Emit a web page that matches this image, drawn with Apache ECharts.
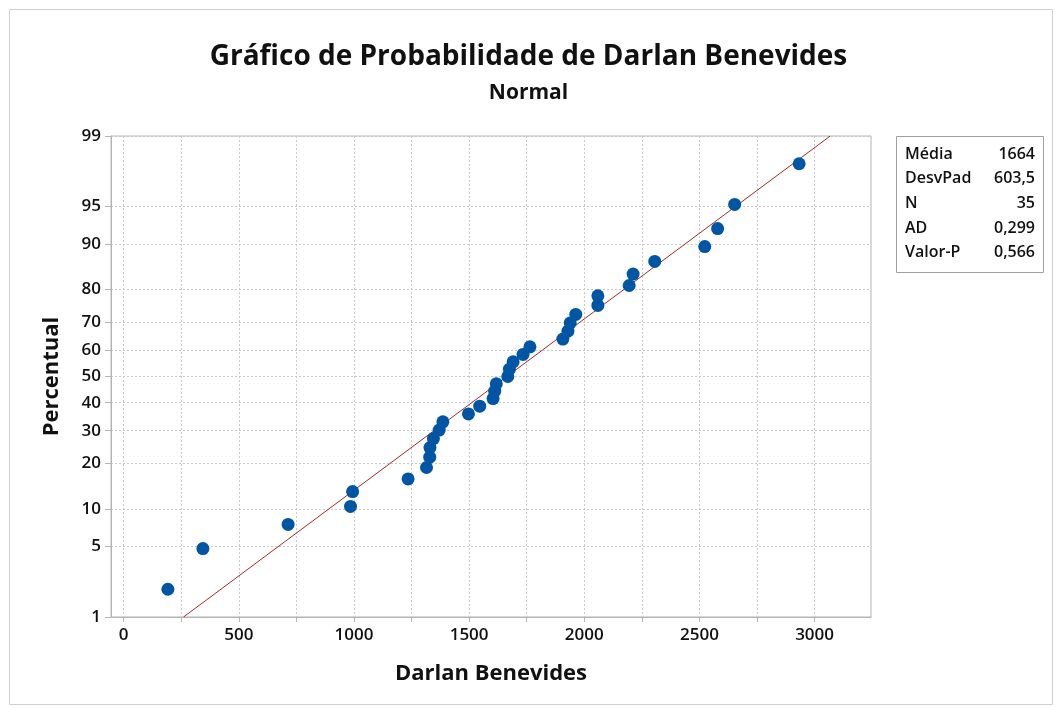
<!DOCTYPE html>
<html>
<head>
<meta charset="utf-8">
<script src="https://cdn.jsdelivr.net/npm/echarts@6/dist/echarts.min.js"></script>
<style>
  html, body { margin: 0; padding: 0; background: #fff; }
  #main { width: 1057px; height: 709px; }
</style>
</head>
<body>
<div id="main"></div>
<script>
var chart = echarts.init(document.getElementById('main'))

// dados (ordenados)
var xValues = [192, 344, 714, 985, 994, 1235, 1315, 1329, 1330, 1345, 1370, 1386, 1497, 1546,
  1604, 1611, 1618, 1668, 1675, 1691, 1734, 1764, 1907, 1929, 1939, 1963, 2059, 2059,
  2195, 2212, 2306, 2523, 2579, 2653, 2933]
var pctValues = [1.98, 4.80, 7.63, 10.45, 13.28, 16.10, 18.93, 21.75, 24.58, 27.40, 30.23, 33.05,
  35.88, 38.70, 41.53, 44.35, 47.18, 50.00, 52.82, 55.65, 58.47, 61.30, 64.12, 66.95,
  69.77, 72.60, 75.42, 78.25, 81.07, 83.90, 86.72, 89.55, 92.37, 95.20, 98.02]
var yTicks = [1, 5, 10, 20, 30, 40, 50, 60, 70, 80, 90, 95, 99]
var xTicks = [0, 500, 1000, 1500, 2000, 2500, 3000]
var xGrid = [0, 250, 500, 750, 1000, 1250, 1500, 1750, 2000, 2250, 2500, 2750, 3000]
var fitPct = [1, 99]
var statLabels = ['Média', 'DesvPad', 'N', 'AD', 'Valor-P']
var statValues = ['1664', '603,5', '35', '0,299', '0,566']
var mean = 1664, sd = 603.5

// inversa da normal (Acklam)
function probit(p) {
  var a = [-39.69683028665376, 220.9460984245205, -275.9285104469687, 138.3577518672690, -30.66479806614716, 2.506628277459239]
  var b = [-54.47609879822406, 161.5858368580409, -155.6989798598866, 66.80131188771972, -13.28068155288572]
  var c = [-0.007784894002430293, -0.3223964580411365, -2.400758277161838, -2.549732539343734, 4.374664141464968, 2.938163982698783]
  var d = [0.007784695709041462, 0.3224671290700398, 2.445134137142996, 3.754408661907416]
  var pl = 0.02425, q, r
  if (p < pl) {
    q = Math.sqrt(-2 * Math.log(p))
    return (((((c[0]*q+c[1])*q+c[2])*q+c[3])*q+c[4])*q+c[5]) / ((((d[0]*q+d[1])*q+d[2])*q+d[3])*q+1)
  }
  if (p > 1 - pl) {
    q = Math.sqrt(-2 * Math.log(1 - p))
    return -(((((c[0]*q+c[1])*q+c[2])*q+c[3])*q+c[4])*q+c[5]) / ((((d[0]*q+d[1])*q+d[2])*q+d[3])*q+1)
  }
  q = p - 0.5
  r = q * q
  return (((((a[0]*r+a[1])*r+a[2])*r+a[3])*r+a[4])*r+a[5])*q / (((((b[0]*r+b[1])*r+b[2])*r+b[3])*r+b[4])*r+1)
}

var yTickZ = yTicks.map(function (p) { return probit(p / 100) })
var points = xValues.map(function (x, i) { return [x, probit(pctValues[i] / 100)] })
var fitLine = fitPct.map(function (p) { var z = probit(p / 100); return [mean + sd * z, z] })

function zLabel(v) {
  var best = 0
  for (var i = 0; i < yTickZ.length; i++) {
    if (Math.abs(yTickZ[i] - v) < Math.abs(yTickZ[best] - v)) best = i
  }
  return String(yTicks[best])
}

var font = 'Open Sans'
var gridStyle = { show: true, lineStyle: { color: '#c8c8c8', type: [2, 2], width: 1 } }

var statTexts = []
statLabels.forEach(function (s, i) {
  statTexts.push({
    type: 'text', left: 905, top: 146 + i * 24.7,
    style: { text: s, font: '600 16px "' + font + '"', fill: '#111' }
  })
  statTexts.push({
    type: 'text', right: 22, top: 146 + i * 24.7,
    style: { text: statValues[i], font: '600 16px "' + font + '"', fill: '#111', align: 'right' }
  })
})

var option = {
  backgroundColor: '#fff',
  animation: false,
  textStyle: { fontFamily: font },
  title: [{
    text: 'Gráfico de Probabilidade de Darlan Benevides',
    left: 'center', top: 38,
    textStyle: { fontSize: 28, fontWeight: 'bold', color: '#111', fontFamily: font }
  }, {
    text: 'Normal',
    left: 'center', top: 78,
    textStyle: { fontSize: 21, fontWeight: 'bold', color: '#111', fontFamily: font }
  }],
  grid: { left: 111, right: 186, top: 136, bottom: 92, show: true, borderColor: '#b4b4b4', borderWidth: 1 },
  xAxis: {
    type: 'value', min: -55, max: 3245,
    name: 'Darlan Benevides', nameLocation: 'middle', nameGap: 46,
    nameTextStyle: { fontSize: 22, fontWeight: 'bold', color: '#111', fontFamily: font },
    axisLine: { show: true, onZero: false, lineStyle: { color: '#b4b4b4' } },
    axisTick: { show: true, customValues: xGrid, length: 5, lineStyle: { color: '#b4b4b4' } },
    axisLabel: {
      customValues: xTicks, formatter: function (v) { return String(v) },
      fontSize: 17, fontWeight: 600, color: '#111', margin: 10
    },
    splitLine: gridStyle
  },
  yAxis: {
    type: 'value', min: yTickZ[0], max: yTickZ[yTickZ.length - 1],
    name: 'Percentual', nameLocation: 'middle', nameGap: 48, nameRotate: 90,
    nameTextStyle: { fontSize: 22, fontWeight: 'bold', color: '#111', fontFamily: font },
    axisLine: { show: true, onZero: false, lineStyle: { color: '#b4b4b4' } },
    axisTick: { show: true, customValues: yTickZ, length: 6, lineStyle: { color: '#b4b4b4' } },
    axisLabel: { customValues: yTickZ, formatter: zLabel, fontSize: 17, fontWeight: 600, color: '#111', margin: 10 },
    splitLine: gridStyle
  },
  series: [{
    type: 'line', data: fitLine, symbol: 'none', silent: true,
    lineStyle: { color: '#a52a2a', width: 1 }, z: 2
  }, {
    type: 'scatter', data: points, symbolSize: 13,
    itemStyle: { color: '#0055a5', opacity: 1 }, z: 3
  }],
  graphic: [{
    type: 'rect', left: 7, top: 7, silent: true,
    shape: { width: 1043, height: 695 },
    style: { fill: 'none', stroke: '#d0d0d0', lineWidth: 1 }
  }, {
    type: 'rect', left: 896, top: 136, silent: true,
    shape: { width: 147, height: 136 },
    style: { fill: '#fff', stroke: '#a0a0a0', lineWidth: 1 }
  }].concat(statTexts)
}

chart.setOption(option)
</script>
</body>
</html>
